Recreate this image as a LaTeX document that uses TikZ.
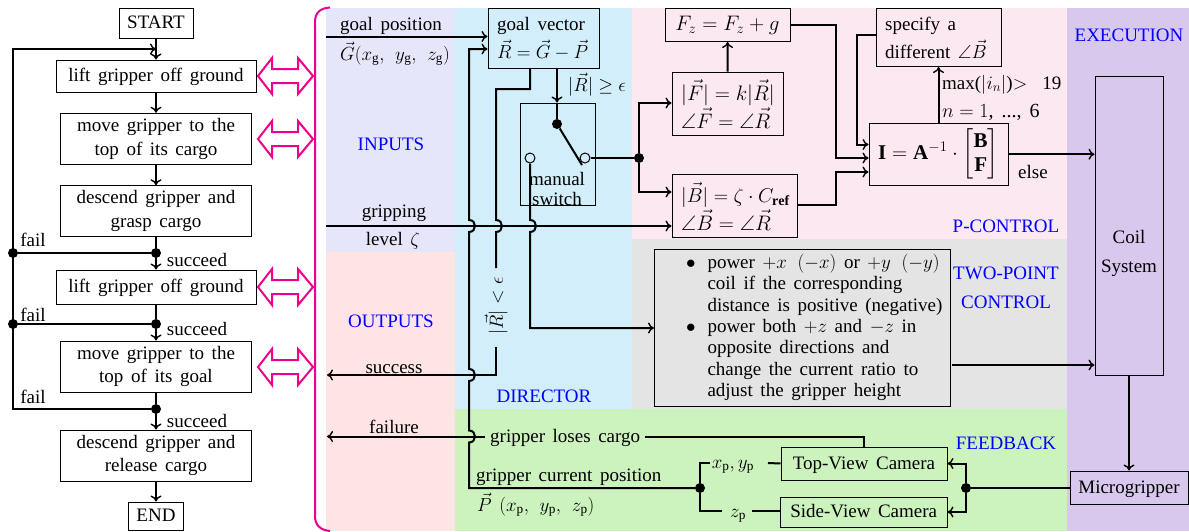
\documentclass[tikz,border=0pt]{standalone}
\usepackage{fix-cm}
\usepackage{amsmath,amssymb}
\usepackage{fontspec}
\setmainfont{Liberation Serif}[WordSpace=1.6]
\usetikzlibrary{arrows.meta,calc}
\definecolor{cin}{RGB}{230,230,250}
\definecolor{cout}{RGB}{255,228,228}
\definecolor{cdir}{RGB}{210,238,250}
\definecolor{cpc}{RGB}{252,232,240}
\definecolor{ctp}{RGB}{228,228,228}
\definecolor{cfb}{RGB}{204,242,190}
\definecolor{cex}{RGB}{216,200,238}
\definecolor{mag}{RGB}{236,0,140}
\tikzset{
  wire/.style={line width=2pt,line join=miter},
  arr/.style={wire,-{Computer Modern Rightarrow[length=6pt,width=11pt,line width=1.4pt]}},
  box/.style={draw=black,line width=1pt,inner sep=0pt,align=center},
  one/.style={text height=14pt,text depth=2.5pt},
  lbl/.style={inner sep=0pt,anchor=base},
  ttl/.style={lbl,text=blue},
  bigm/.style={font=\fontsize{21}{24}\selectfont},
  midm/.style={font=\fontsize{20}{24}\selectfont},
  dot/.style={circle,fill=black,inner sep=0pt,minimum size=10pt},
  odot/.style={circle,draw=black,fill=cdir,line width=1pt,inner sep=0pt,minimum size=10pt},
  region/.style={draw=none},
  dbl/.style={draw=mag,line width=2pt,fill=white,line join=miter}
}
\newcommand{\jmp}[2]{.. controls (#1+8,#2+6) and (#1+8,#2-6) .. (#1,#2-6)}
\newcommand{\jmpd}[2]{.. controls (#1+8,#2-6) and (#1+8,#2+6) .. (#1,#2+6)}
\newcommand{\dblarrow}[1]{%
  \draw[dbl] (258,#1) -- (272,#1-18) -- (272,#1-7) -- (298,#1-7) -- (298,#1-18) -- (313,#1)
   -- (298,#1+18) -- (298,#1+7) -- (272,#1+7) -- (272,#1+18) -- cycle;}
\begin{document}
\begin{tikzpicture}[x=1pt,y=-1pt,font=\fontsize{19}{23.5}\selectfont]
\useasboundingbox (0,0) rectangle (1189,531);
% regions
\fill[cin,region] (326,8) rectangle (455,252);
\fill[cout,region] (326,252) rectangle (455,531);
\fill[cdir,region] (455,8) rectangle (632,409);
\fill[cpc,region] (632,8) rectangle (1067,239);
\fill[ctp,region] (632,239) rectangle (1067,409);
\fill[cfb,region] (455,409) rectangle (1067,531);
\fill[cex,region] (1067,8) rectangle (1189,531);
% pink
\draw[mag,line width=2pt] (330,7.5) .. controls (320,8) and (315,13) .. (315,22) -- (315,516) .. controls (315,525) and (320,530) .. (330,531);
\dblarrow{76}\dblarrow{139}\dblarrow{287}\dblarrow{367}
% flow chart
\node[box,one,minimum width=74pt,minimum height=30pt] (start) at (156,23) {START};
\node[box,one,minimum width=200pt,minimum height=32pt] (lift1) at (156,76) {lift gripper off ground};
\node[box,minimum width=191pt,minimum height=51.5pt] (move1) at (156,139) {move gripper to the\\top of its cargo};
\node[box,minimum width=191pt,minimum height=50.5pt] (desc1) at (156,211) {descend gripper and\\grasp cargo};
\node[box,one,minimum width=200pt,minimum height=34pt] (lift2) at (156,287) {lift gripper off ground};
\node[box,minimum width=191pt,minimum height=51pt] (move2) at (156,366.5) {move gripper to the\\top of its goal};
\node[box,minimum width=191pt,minimum height=51pt] (desc2) at (156,455.5) {descend gripper and\\release cargo};
\node[box,one,minimum width=55pt,minimum height=28pt] (endn) at (156,516) {END};
\node[dot] (j1) at (156,253) {};
\node[dot] (j1l) at (13,253) {};
\node[dot] (j2) at (156,324) {};
\node[dot] (j2l) at (13,324) {};
\node[dot] (j3) at (156,409) {};
\coordinate (c3) at (13,409);
\coordinate (c0) at (13,49);
\coordinate (t0) at (156,49);
\draw[arr] (start) -- (lift1);
\draw[arr] (lift1) -- (move1);
\draw[arr] (move1) -- (desc1);
\draw[wire] (desc1) -- (j1);
\draw[arr] (j1) -- (lift2);
\draw[wire] (lift2) -- (j2);
\draw[arr] (j2) -- (move2);
\draw[wire] (move2) -- (j3);
\draw[arr] (j3) -- (desc2);
\draw[arr] (desc2) -- (endn);
\draw[wire] (j1) -- (j1l);
\draw[wire] (j2) -- (j2l);
\draw[arr] (j3) -- (c3) -- (c0) -- (t0);
\node[lbl] (f1) at (33,246) {fail};
\node[lbl] (f2) at (33,321) {fail};
\node[lbl] (f3) at (33,403) {fail};
\node[lbl] (s1) at (197,266) {succeed};
\node[lbl] (s2) at (197,335) {succeed};
\node[lbl] (s3) at (197,427) {succeed};
% inputs / outputs texts
\node[ttl] (tin) at (391,150) {INPUTS};
\node[ttl] (tout) at (391,327) {OUTPUTS};
\node[ttl] (tdir) at (544,402) {DIRECTOR};
\node[ttl] (tpc) at (1006,232) {P-CONTROL};
\node[ttl] (ttp1) at (1006,279) {TWO-POINT};
\node[ttl] (ttp2) at (1006,308) {CONTROL};
\node[ttl] (tfb) at (1006,449) {FEEDBACK};
\node[ttl] (tex) at (1129,41) {EXECUTION};
\node[lbl] (lgp) at (391,30) {goal position};
\node[lbl] (lg) at (395,60) {$\vec{G}(x_{\mathrm{g}},\ y_{\mathrm{g}},\ z_{\mathrm{g}})$};
\node[lbl] (lgr) at (394,217) {gripping};
\node[lbl] (llv) at (393,245) {level $\zeta$};
\node[lbl] (lsu) at (394,373) {success};
\node[lbl] (lfa) at (394,433) {failure};
% director
\node[box,minimum width=111.5pt,minimum height=60pt] (gv) at (543.75,38.5) {};
\node[lbl,anchor=base west] (gv1) at (497,30) {goal vector};
\node[lbl,anchor=base west] (gv2) at (497,58) {$\vec{R}=\vec{G}-\vec{P}$};
\node[box,minimum width=75pt,minimum height=102pt] (sw) at (557.5,154) {};
\node[lbl] (sw1) at (557,185) {manual};
\node[lbl] (sw2) at (557,205) {switch};
\node[dot] (swd) at (557,124) {};
\node[odot] (swa) at (530,158) {};
\node[odot] (swb) at (585,158) {};
\coordinate (swe) at (582,165);
\node[lbl,anchor=base west] (lge) at (568,91) {$|\vec{R}|\geq\epsilon$};
\node[lbl,rotate=90,anchor=center] (llt) at (496,306) {$|\vec{R}|<\epsilon$};
\draw[arr] (gv.south -| swd) -- (sw.north -| swd);
\draw[wire] (sw.north -| swd) -- (swd);
\draw[wire] (swd) -- (swe);
% p-control
\node[box,bigm,minimum width=125pt,minimum height=33pt] (fz) at (727.5,25) {$F_z=F_z+g$};
\node[box,minimum width=111.5pt,minimum height=63pt] (ff) at (727.75,103.5) {};
\node[lbl,bigm,anchor=base west] (ff1) at (681,100) {$|\vec{F}|=k|\vec{R}|$};
\node[lbl,bigm,anchor=base west] (ff2) at (681,128) {$\angle\vec{F}=\angle\vec{R}$};
\node[box,minimum width=125pt,minimum height=63pt] (bb) at (734.5,205.5) {};
\node[lbl,midm,anchor=base west] (bb1) at (681,202) {$|\vec{B}|=\zeta\cdot C_{\mathbf{ref}}$};
\node[lbl,bigm,anchor=base west] (bb2) at (681,230) {$\angle\vec{B}=\angle\vec{R}$};
\node[box,minimum width=125pt,minimum height=58pt] (sp) at (938.5,37.5) {};
\node[lbl,anchor=base west] (sp1) at (885,30) {specify a};
\node[lbl,anchor=base west] (sp2) at (885,58) {different $\angle\vec{B}$};
\node[box,bigm,minimum width=139pt,minimum height=61.5pt] (ii) at (938.5,154.25) {$\mathbf{I}=\mathbf{A}^{-1}\cdot\begin{bmatrix}\mathbf{B}\\\mathbf{F}\end{bmatrix}$};
\node[lbl,anchor=base west] (lm) at (942,89) {max($|i_n|$)$>$\ \ 19};
\node[lbl,midm,anchor=base west] (ln) at (942,117) {$n=1$, ..., 6};
\node[lbl] (lel) at (1033,178) {else};
\node[dot] (jp) at (639,158) {};
\draw[wire] (swb) -- (jp);
\draw[arr] (jp) |- (ff.west |- 0,103);
\draw[arr] (jp) |- (bb.west |- 0,192);
\draw[arr] (ff) -- (fz);
\coordinate (k1) at (836,25);
\coordinate (k2) at (836,205);
\coordinate (k3) at (857,35);
\draw[arr] (fz.east) -- (k1) |- (ii.west |- 0,158);
\draw[arr] (bb.east |- k2) -- (k2) |- (ii.west |- 0,172);
\draw[arr] (sp.west |- k3) -- (k3) |- (ii.west |- 0,144.5);
\draw[arr] (ii) -- (sp);
% execution
\node[box,minimum width=68pt,minimum height=299.5pt] (coil) at (1129,225.75) {};
\node[lbl] (co1) at (1129,243) {Coil};
\node[lbl] (co2) at (1129,272) {System};
\node[box,one,minimum width=118pt,minimum height=33pt] (mg) at (1129,487.5) {Microgripper};
\draw[arr] (coil) -- (mg);
\draw[arr] (ii.east) -- (coil.west |- ii.east);
% two-point
\node[box,fill=ctp,minimum width=296pt,minimum height=157pt] (tp) at (802.5,327.5) {%
\begin{minipage}{286pt}\fontsize{19}{21.4}\selectfont
\begin{list}{$\bullet$}{\setlength\leftmargin{48pt}\setlength\labelsep{12pt}\setlength\itemsep{0pt}\setlength\parsep{0pt}\setlength\topsep{0pt}\setlength\partopsep{0pt}}
\item power $+x$\, $(-x)$ or $+y$\, $(-y)$\\coil if the corresponding\\distance is positive (negative)
\item power both $+z$ and $-z$ in\\opposite directions and\\change the current ratio to\\adjust the gripper height
\end{list}\end{minipage}};
\coordinate (t1) at (952,365);
\draw[arr] (t1) -- (coil.west |- t1);
% feedback
\node[box,one,minimum width=166pt,minimum height=33pt] (tv) at (864,463.5) {Top-View Camera};
\node[box,one,minimum width=166.5pt,minimum height=30pt] (sv) at (863.75,512) {Side-View Camera};
\node[dot] (jf) at (700,488) {};
\node[dot] (jc) at (966,488) {};
\draw[wire] (mg.west |- jc) -- (jc);
\draw[arr] (jc) |- (tv.east);
\draw[arr] (jc) |- (sv.east);
\node[lbl] (lxy) at (733,468) {$x_{\mathrm{p}},y_{\mathrm{p}}$};
\node[lbl] (lz) at (738,517) {$z_{\mathrm{p}}$};
\coordinate (xs) at (710,463);
\coordinate (zs) at (722,511);
\draw[wire] (jf) |- (xs);
\draw[wire] (jf) |- (zs);
\draw[wire] (768,463) -- (tv.west);
\draw[wire] (752,511) -- (sv.west |- zs);
\node[lbl,anchor=base west] (lgl) at (490,442) {gripper loses cargo};
\node[lbl,anchor=base west] (lgc) at (476,481) {gripper current position};
\node[lbl,anchor=base west] (lp) at (477,511) {$\vec{P}\ (x_{\mathrm{p}},\ y_{\mathrm{p}},\ z_{\mathrm{p}})$};
\draw[wire] (645,436.5) -- (tv.north |- 0,436.5) -- (tv.north);
% long wires
\coordinate (a0) at (326,36.5);
\draw[arr] (a0) -- (gv.west |- a0);
\coordinate (b0) at (326,226);
\draw[arr] (b0) -- (bb.west |- b0);
\draw[arr] (jf) -- (469,488) -- (469,442.5) \jmp{469}{436.5} -- (469,381) \jmp{469}{375} -- (469,232) \jmp{469}{226} -- (469,49) -- (gv.west |- 0,49);
\draw[wire] (gv.south -| 530,0) -- (530,89) -- (496,89) -- (496,220) \jmpd{496}{226} -- (496,268);
\draw[arr] (496,347) -- (496,375) -- (327,375);
\draw[arr] (swa) -- (530,220) \jmpd{530}{226} -- (530,328) -- (tp.west |- 0,328);
\draw[arr] (485,436.5) -- (327,436.5);
\end{tikzpicture}
\end{document}
